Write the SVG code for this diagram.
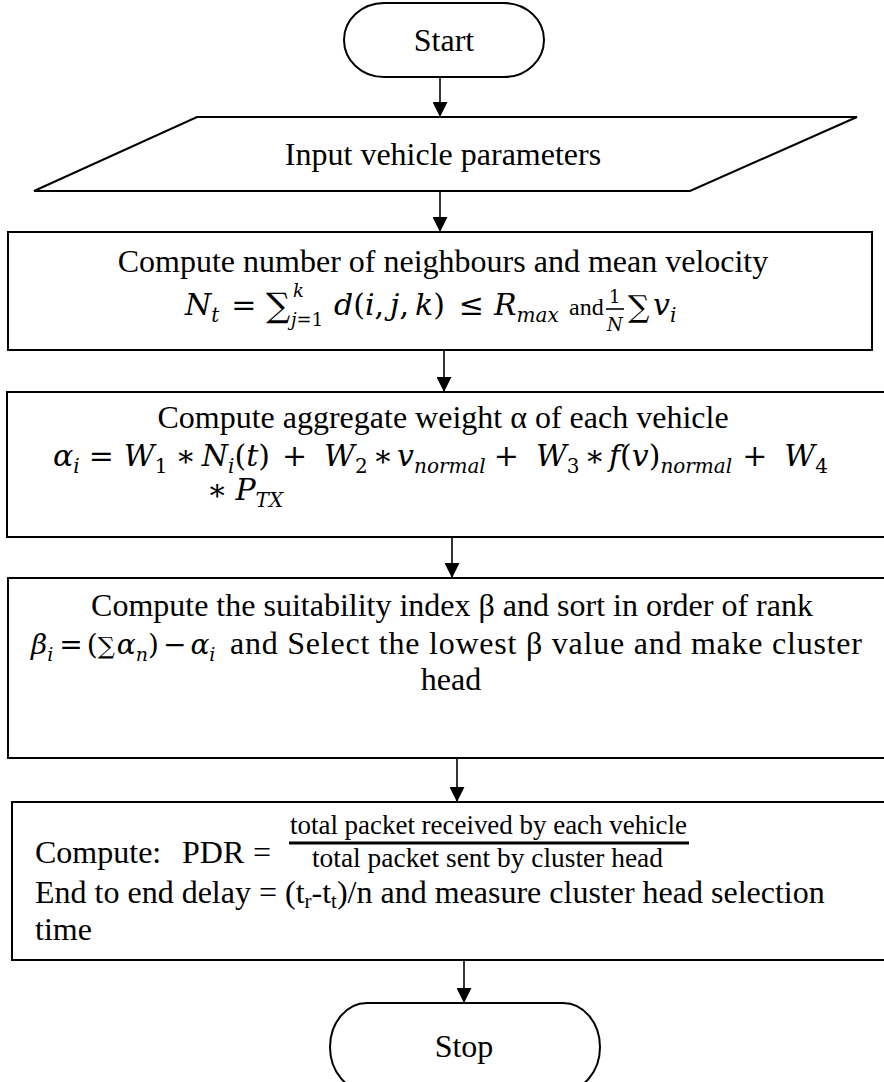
<svg xmlns="http://www.w3.org/2000/svg" width="884" height="1082" viewBox="0 0 884 1082">
<defs>
<style>
.shape{fill:#fff;stroke:#000;stroke-width:2}
.t{font-family:"Liberation Serif","Times New Roman",serif;font-size:32px;fill:#000}
.m{font-family:"DejaVu Serif",serif;font-style:italic;font-size:30px;fill:#000}
.mu{font-style:normal}
.sb{font-size:20px}
.ss{font-size:18px}
.fr{font-family:"Liberation Serif","Times New Roman",serif;font-size:27px;fill:#000}
.c{stroke:#000;stroke-width:1.6;fill:none;marker-end:url(#ah)}
.bar{stroke:#000;stroke-width:1.6}
.bar2{stroke:#000;stroke-width:3}
</style>
<marker id="ah" markerUnits="userSpaceOnUse" markerWidth="15" markerHeight="15" refX="15" refY="7.5" orient="auto" viewBox="0 0 15 15">
<path d="M0,0 L15,7.5 L0,15 z" fill="#000"/>
</marker>
</defs>
<rect x="0" y="0" width="884" height="1082" fill="#fff"/>

<g id="connectors">
<line class="c" x1="440" y1="77" x2="440" y2="117"/>
<line class="c" x1="440" y1="189" x2="440" y2="232"/>
<line class="c" x1="444" y1="350" x2="444" y2="392"/>
<line class="c" x1="452" y1="537" x2="452" y2="578"/>
<line class="c" x1="457" y1="758" x2="457" y2="802"/>
<line class="c" x1="464" y1="960" x2="464" y2="1003"/>
</g>

<g id="start">
<rect class="shape" x="344" y="3" width="200" height="74" rx="40" ry="37"/>
<text class="t" x="444" y="51" text-anchor="middle">Start</text>
</g>

<g id="input">
<polygon class="shape" points="197,117 857,117 690,191 34,191"/>
<text class="t" x="443" y="165" text-anchor="middle">Input vehicle parameters</text>
</g>

<g id="neighbours">
<rect class="shape" x="8" y="232" width="864" height="118"/>
<text class="t" x="443" y="272" text-anchor="middle">Compute number of neighbours and mean velocity</text>
<text class="m" x="185" y="315">N<tspan dy="7" class="sb">t</tspan><tspan dx="12" dy="-7" class="mu">=</tspan></text>
<text class="m mu" x="266" y="317" style="font-size:34px">∑</text>
<text class="m ss" x="293" y="297">k</text>
<text class="m ss" x="291" y="326">j<tspan class="mu">=1</tspan></text>
<text class="m" x="334" y="315">d<tspan class="mu">(</tspan>i<tspan class="mu">,</tspan><tspan dx="6">j</tspan><tspan class="mu">,</tspan><tspan dx="6">k</tspan><tspan class="mu">)</tspan><tspan dx="14" class="mu">≤</tspan><tspan dx="10">R</tspan><tspan dy="7" class="sb">max</tspan></text>
<text class="t" x="569" y="315" style="font-size:24px">and</text>
<text class="m ss mu" x="609" y="303">1</text>
<line class="bar" x1="606" y1="309" x2="624" y2="309"/>
<text class="m ss" x="607" y="331">N</text>
<text class="m mu" x="628" y="317" style="font-size:30px">∑</text>
<text class="m" x="653" y="315">v<tspan dy="7" class="sb">i</tspan></text>
</g>

<g id="weight">
<rect class="shape" x="7" y="392" width="890" height="145"/>
<text class="t" x="443" y="428" text-anchor="middle">Compute aggregate weight α of each vehicle</text>
<text class="m" x="53" y="466">α<tspan dy="7" class="sb">i</tspan><tspan dx="9" dy="-7" class="mu">=</tspan><tspan dx="10">W</tspan><tspan dy="7" class="sb mu">1</tspan><tspan dx="8" dy="-7" class="mu">∗</tspan><tspan dx="6">N</tspan><tspan dy="7" class="sb">i</tspan><tspan dy="-7" class="mu">(</tspan>t<tspan class="mu">)</tspan><tspan dx="12" class="mu">+</tspan><tspan dx="17">W</tspan><tspan dy="7" class="sb mu">2</tspan><tspan dx="5" dy="-7" class="mu">∗</tspan><tspan dx="4">v</tspan><tspan dy="7" class="sb">normal</tspan><tspan dx="8" dy="-7" class="mu">+</tspan><tspan dx="17">W</tspan><tspan dy="7" class="sb mu">3</tspan><tspan dx="5" dy="-7" class="mu">∗</tspan><tspan dx="4">f</tspan><tspan class="mu">(</tspan>v<tspan class="mu">)</tspan><tspan dy="7" class="sb">normal</tspan><tspan dx="10" dy="-7" class="mu">+</tspan><tspan dx="17">W</tspan><tspan dy="7" class="sb mu">4</tspan></text>
<text class="m" x="207" y="500"><tspan class="mu">∗</tspan><tspan dx="8">P</tspan><tspan dy="7" class="sb">TX</tspan></text>
</g>

<g id="suitability">
<rect class="shape" x="8" y="578" width="900" height="180"/>
<text class="t" x="452" y="616" text-anchor="middle">Compute the suitability index β and sort in order of rank</text>
<text class="m" x="31" y="654" style="font-size:28px">β<tspan dy="7" style="font-size:19px">i</tspan><tspan dx="6" dy="-7" class="mu">=</tspan><tspan dx="4" class="mu">(</tspan><tspan class="mu" style="font-size:24px">∑</tspan><tspan dx="2">α</tspan><tspan dy="7" style="font-size:19px">n</tspan><tspan dy="-7" class="mu">)</tspan><tspan dx="4" class="mu">−</tspan><tspan dx="4">α</tspan><tspan dy="7" style="font-size:19px">i</tspan></text>
<text class="t" x="230" y="654" textLength="632" lengthAdjust="spacing">and Select the lowest β value and make cluster</text>
<text class="t" x="451" y="690" text-anchor="middle">head</text>
</g>

<g id="metrics">
<rect class="shape" x="12" y="802" width="900" height="158"/>
<text class="t" y="863"><tspan x="35">Compute:</tspan><tspan x="182">PDR</tspan><tspan x="253">=</tspan></text>
<text class="fr" x="290" y="834" textLength="397" lengthAdjust="spacingAndGlyphs">total packet received by each vehicle</text>
<line class="bar2" x1="289" y1="843" x2="689" y2="843"/>
<text class="fr" x="312" y="867" textLength="351" lengthAdjust="spacingAndGlyphs">total packet sent by cluster head</text>
<text class="t" x="35" y="903">End to end delay = (t<tspan dy="5" style="font-size:21px">r</tspan><tspan dy="-5">-t</tspan><tspan dy="5" style="font-size:21px">t</tspan><tspan dy="-5">)/n and measure cluster head selection</tspan></text>
<text class="t" x="35" y="940">time</text>
</g>

<g id="stop">
<rect class="shape" x="330" y="1003" width="270" height="88" rx="37" ry="44"/>
<text class="t" x="464" y="1057" text-anchor="middle">Stop</text>
</g>
</svg>
